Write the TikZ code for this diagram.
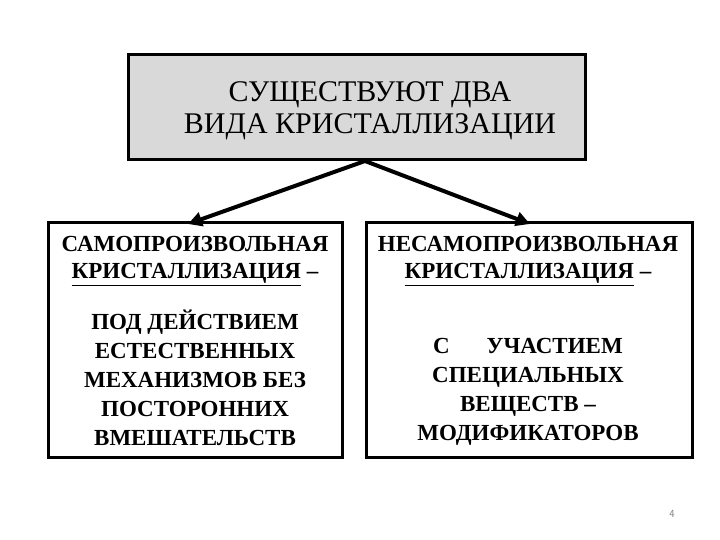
\documentclass[tikz,border=0pt]{standalone}
\usepackage{fontspec}
\setmainfont{Liberation Serif}
\usetikzlibrary{arrows.meta}
\begin{document}
\begin{tikzpicture}[x=1pt,y=-1pt,
  boxs/.style={draw=black,line width=3pt},
  conn/.style={line width=4pt,-{Triangle[length=14pt,width=14pt]}}]
\useasboundingbox (0,0) rectangle (720,540);
\draw[boxs,fill={rgb,255:red,217;green,217;blue,217}] (128,55) rectangle (585,160);
\node[font=\fontsize{30}{32}\selectfont,align=center] (top) at (370,111) {СУЩЕСТВУЮТ ДВА\\ВИДА КРИСТАЛЛИЗАЦИИ};
\coordinate (src) at (365,161);
\draw[boxs] (48,223) rectangle (342,457);
\draw[boxs] (366,223) rectangle (692,457);
\coordinate (la) at (188,224);
\coordinate (ra) at (530,224);
\draw[conn] (src) -- (la);
\draw[conn] (src) -- (ra);
\node[font=\bfseries\fontsize{23}{27}\selectfont,align=center] (lh) at (195,261) {САМОПРОИЗВОЛЬНАЯ\\\underline{КРИСТАЛЛИЗАЦИЯ} –};
\node[font=\bfseries\fontsize{23}{27}\selectfont,align=center] (rh) at (528,261) {НЕСАМОПРОИЗВОЛЬНАЯ\\\underline{КРИСТАЛЛИЗАЦИЯ} –};
\node[font=\bfseries\fontsize{23}{29}\selectfont,align=center] (lb) at (195,378) {ПОД ДЕЙСТВИЕМ\\ЕСТЕСТВЕННЫХ\\МЕХАНИЗМОВ БЕЗ\\ПОСТОРОННИХ\\ВМЕШАТЕЛЬСТВ};
\node[font=\bfseries\fontsize{23}{29}\selectfont,align=center] (rb) at (528,392) {С\hspace{1.6em}УЧАСТИЕМ\\СПЕЦИАЛЬНЫХ\\ВЕЩЕСТВ –\\МОДИФИКАТОРОВ};
\node[font=\sffamily\fontsize{11}{12}\selectfont,text=gray] (pn) at (672,514) {4};
\end{tikzpicture}
\end{document}
